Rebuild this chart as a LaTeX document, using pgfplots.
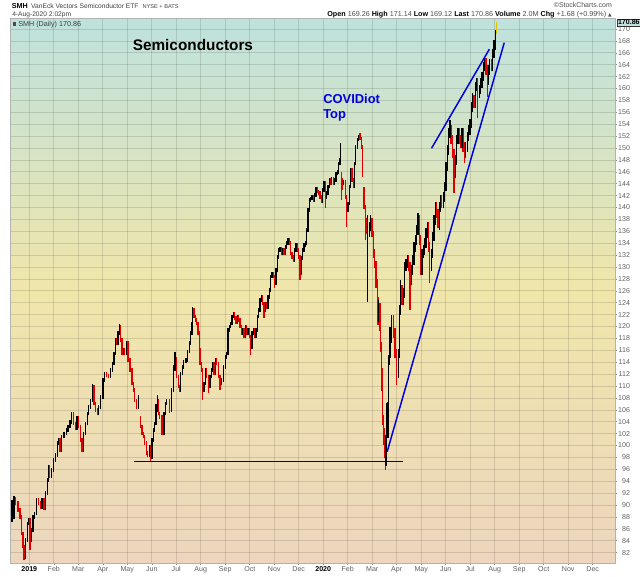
\documentclass[border=0pt]{standalone}
\usepackage{pgfplots}
\pgfplotsset{compat=1.18}
\usepackage{pgfplotstable}
\usepackage{fontspec}
\setmainfont{Liberation Sans}
\newfontfamily\dejavu{DejaVu Sans}
\definecolor{bgtop}{RGB}{190,226,221}
\definecolor{bgmid}{RGB}{240,230,170}
\definecolor{bgbot}{RGB}{236,214,190}
\definecolor{barred}{RGB}{225,0,0}
\definecolor{lblgray}{RGB}{95,95,95}
\definecolor{lastbar}{RGB}{225,195,0}
\definecolor{annblue}{RGB}{0,0,225}

\pgfplotstableread{
m lo hi d
-0.71 87.2 90.8 0
-0.62 87.7 91.6 0
-0.57 90.0 91.3 1
-0.46 88.9 90.6 1
-0.38 87.7 89.5 1
-0.33 84.9 88.3 1
-0.26 82.7 85.5 1
-0.22 80.7 83.3 1
-0.16 81.0 84.4 0
-0.08 83.8 87.2 0
-0.03 86.6 87.8 0
0.03 82.4 87.8 1
0.08 83.8 86.1 0
0.15 85.5 88.3 0
0.22 87.7 88.9 0
0.30 88.3 91.1 0
0.38 90.0 91.1 1
0.46 89.4 90.6 1
0.52 89.4 91.1 0
0.60 89.1 91.1 1
0.65 89.1 92.3 0
0.74 91.7 94.5 0
0.79 93.9 96.7 0
0.84 94.5 96.7 1
0.90 94.5 96.2 0
0.98 95.6 97.9 0
1.06 97.3 98.7 0
1.14 98.1 100.7 0
1.20 100.1 101.2 0
1.25 98.9 101.2 1
1.33 98.9 101.8 0
1.42 101.2 102.3 0
1.51 101.7 102.9 0
1.58 102.3 103.5 0
1.66 102.9 104.3 0
1.72 103.7 105.7 0
1.80 103.4 105.7 1
1.88 102.6 104.0 1
1.95 102.6 104.9 0
2.01 102.9 104.9 1
2.10 100.6 103.5 1
2.15 98.9 101.2 1
2.21 98.9 102.3 0
2.29 101.7 104.0 0
2.37 103.4 105.7 0
2.42 105.1 106.8 0
2.50 106.2 107.9 0
2.57 107.3 110.4 0
2.64 106.8 110.2 1
2.71 105.7 107.4 1
2.78 105.1 106.3 1
2.83 105.1 106.8 0
2.91 106.2 108.5 0
3.01 107.9 111.3 0
3.08 110.7 112.4 0
3.16 111.5 112.4 1
3.24 111.3 112.1 1
3.32 111.3 113.0 0
3.39 112.4 114.1 0
3.46 113.5 115.8 0
3.51 115.2 118.0 0
3.57 116.9 118.0 1
3.62 116.9 119.2 0
3.68 118.6 120.5 0
3.73 117.4 120.3 1
3.78 115.2 118.0 1
3.84 115.2 116.4 0
3.89 115.2 116.4 1
3.97 115.2 117.5 0
4.03 114.1 117.5 1
4.11 112.4 114.7 1
4.19 110.1 113.0 1
4.25 109.0 110.7 1
4.30 107.3 109.6 1
4.38 106.2 107.9 1
4.46 106.2 108.5 0
4.55 102.9 105.0 1
4.60 101.7 103.5 1
4.65 101.2 102.3 1
4.71 100.1 101.8 1
4.78 98.4 100.7 1
4.84 98.1 99.0 1
4.90 98.1 100.1 0
4.95 97.35 100.1 1
5.01 97.8 101.2 0
5.06 100.6 102.9 0
5.12 102.3 104.0 0
5.17 103.4 107.0 0
5.23 105.7 108.5 0
5.28 105.1 107.9 1
5.33 104.5 105.7 1
5.42 101.7 105.1 1
5.50 101.7 105.7 0
5.55 105.1 107.4 0
5.61 106.8 107.9 0
5.72 105.4 107.9 1
5.81 105.7 109.6 0
5.88 109.0 113.5 0
5.95 112.5 115.8 0
6.02 111.3 114.8 1
6.08 109.6 111.9 1
6.12 109.0 110.2 1
6.18 109.0 112.4 0
6.26 111.8 113.5 0
6.31 112.9 114.4 0
6.40 113.8 114.7 0
6.45 114.1 116.1 0
6.53 115.5 117.5 0
6.59 116.9 119.2 0
6.64 118.6 120.8 0
6.67 120.2 123.3 0
6.72 121.4 123.1 1
6.78 120.8 122.0 1
6.83 120.2 121.4 1
6.89 118.6 120.8 1
6.94 115.8 119.2 1
6.97 113.5 116.4 1
7.02 112.4 114.1 1
7.08 107.6 113.0 1
7.13 109.0 110.7 0
7.18 110.1 113.0 0
7.24 111.3 113.0 1
7.31 108.8 111.9 1
7.38 109.6 111.9 0
7.43 111.3 113.0 0
7.48 112.4 114.1 0
7.54 111.8 114.1 1
7.59 111.8 114.7 0
7.65 113.5 114.7 1
7.72 111.3 114.1 1
7.79 109.3 111.9 1
7.85 110.1 111.3 0
7.92 110.7 113.5 0
8.00 112.9 115.2 0
8.06 114.6 115.8 0
8.11 115.2 119.7 0
8.16 119.1 120.3 0
8.22 119.7 120.8 0
8.27 120.2 122.0 0
8.33 121.4 122.5 0
8.38 121.1 122.5 1
8.44 120.5 121.7 1
8.49 120.5 122.0 0
8.55 120.8 122.0 1
8.60 119.7 121.4 1
8.65 118.6 120.3 1
8.71 118.6 119.7 0
8.76 118.0 119.7 1
8.82 118.0 120.3 0
8.87 118.6 120.3 1
8.93 118.6 119.7 0
8.98 118.0 119.7 1
9.03 115.2 118.6 1
9.09 116.3 119.2 0
9.14 118.6 119.7 0
9.20 118.0 119.7 1
9.25 118.0 119.7 0
9.31 119.1 122.0 0
9.36 121.4 123.1 0
9.42 122.5 124.8 0
9.47 124.2 125.3 0
9.53 123.6 125.3 1
9.58 121.5 124.2 1
9.63 122.5 124.2 0
9.69 123.0 124.2 1
9.74 123.0 125.3 0
9.80 124.7 126.4 0
9.85 125.8 128.7 0
9.91 128.1 129.2 0
9.96 128.1 129.2 1
10.02 126.5 128.7 1
10.07 127.0 129.8 0
10.13 129.2 132.0 0
10.18 131.4 133.2 0
10.23 132.6 133.4 0
10.29 132.0 133.4 1
10.34 132.0 133.2 0
10.40 132.0 133.2 1
10.45 132.0 133.7 0
10.51 133.1 134.3 0
10.56 133.7 134.8 0
10.61 133.7 134.8 1
10.67 132.0 134.3 1
10.72 131.4 132.6 1
10.78 130.9 132.0 1
10.83 130.9 133.2 0
10.89 132.6 134.0 0
10.94 132.6 134.0 1
10.99 131.4 133.2 1
11.05 127.8 132.0 1
11.10 128.6 131.8 0
11.16 131.2 133.2 0
11.21 132.6 134.0 0
11.27 133.4 134.3 0
11.32 133.7 136.5 0
11.38 135.9 139.9 0
11.43 139.3 141.6 0
11.49 141.0 141.8 0
11.54 141.2 142.1 0
11.59 141.0 142.1 1
11.65 141.0 142.4 0
11.70 141.8 143.5 0
11.76 142.4 143.5 1
11.81 142.1 143.0 1
11.87 141.5 142.7 1
11.92 140.7 142.1 1
11.97 140.7 143.2 0
12.03 142.6 144.4 0
12.08 139.9 144.4 1
12.14 141.5 142.7 0
12.19 142.1 143.8 0
12.25 143.2 144.9 0
12.30 143.8 144.9 1
12.35 143.8 145.2 0
12.41 143.8 145.2 1
12.46 143.8 144.9 0
12.52 144.3 146.0 0
12.57 145.4 146.3 0
12.63 145.7 147.7 0
12.68 147.1 148.3 0
12.71 147.7 150.8 0
12.74 141.3 146.0 1
12.79 143.0 145.0 1
12.84 143.8 144.6 0
12.90 141.5 144.6 1
12.95 136.8 142.1 1
13.01 139.3 141.0 0
13.06 140.4 143.8 0
13.12 143.2 146.6 0
13.17 144.3 146.6 1
13.23 143.2 144.9 1
13.28 143.2 147.7 0
13.33 147.1 150.5 0
13.39 149.9 151.7 0
13.44 151.1 152.2 0
13.50 151.3 152.5 1
13.55 149.9 151.9 1
13.61 145.2 150.5 1
13.66 139.8 143.5 1
13.71 134.5 140.4 1
13.77 135.5 138.2 1
13.82 124.2 138.7 0
13.88 135.0 137.6 0
13.93 136.0 138.7 0
13.99 135.0 138.2 1
14.04 131.5 136.0 1
14.10 129.8 133.0 1
14.15 126.5 131.0 1
14.20 123.7 128.0 1
14.23 120.3 125.0 1
14.26 120.8 124.5 0
14.32 119.2 124.0 1
14.34 115.8 120.8 1
14.37 111.3 117.4 1
14.40 109.1 113.0 1
14.42 103.5 110.7 1
14.45 101.3 105.1 1
14.48 100.1 103.0 1
14.50 97.9 101.7 1
14.53 95.9 99.5 1
14.56 96.5 101.7 0
14.59 100.1 107.1 0
14.61 101.3 105.1 1
14.64 101.3 107.3 0
14.67 105.7 115.2 0
14.70 113.6 116.3 0
14.72 114.7 120.0 0
14.79 117.2 121.9 0
14.86 118.1 121.9 1
14.93 114.7 119.7 1
14.99 110.2 116.3 1
15.06 111.3 116.3 0
15.10 114.7 123.6 0
15.16 122.0 127.8 0
15.21 123.7 126.9 1
15.27 123.7 126.4 0
15.32 124.8 130.9 0
15.38 129.3 131.4 0
15.43 129.8 132.0 0
15.49 129.3 132.0 1
15.54 122.8 130.9 1
15.59 127.0 130.3 0
15.65 128.7 132.0 0
15.70 130.4 134.2 0
15.76 132.6 135.3 0
15.81 133.7 137.0 0
15.87 135.4 139.0 0
15.92 133.7 138.7 1
15.97 128.7 135.3 1
16.03 128.7 133.1 0
16.08 131.5 133.7 0
16.14 132.1 134.8 0
16.19 133.2 136.5 0
16.25 134.9 137.6 0
16.30 132.6 137.6 1
16.35 127.3 134.2 1
16.41 129.3 133.1 0
16.46 131.5 135.9 0
16.52 134.3 138.7 0
16.57 137.1 140.9 0
16.63 138.2 140.9 1
16.68 136.5 139.8 1
16.74 136.2 140.9 0
16.79 139.3 142.1 0
16.84 139.9 142.1 1
16.90 139.9 142.6 0
16.95 141.0 144.3 0
17.01 142.7 147.7 0
17.06 146.1 150.5 0
17.12 148.9 153.3 0
17.17 151.7 154.7 0
17.22 150.6 153.8 1
17.28 148.3 152.2 1
17.34 142.4 149.9 1
17.39 144.9 148.8 0
17.44 147.2 152.2 0
17.50 150.6 153.3 0
17.55 150.6 153.3 1
17.61 150.0 152.2 1
17.66 150.0 153.3 0
17.71 149.4 153.3 1
17.77 147.4 151.0 1
17.82 148.3 151.0 0
17.88 149.4 152.7 0
17.93 151.1 153.8 0
17.99 152.2 154.9 0
18.06 153.3 157.7 0
18.10 156.1 159.2 0
18.15 156.7 158.9 1
18.21 156.7 161.1 0
18.26 159.5 161.7 0
18.31 155.0 161.7 1
18.37 158.4 160.6 0
18.42 159.0 161.7 0
18.48 160.1 162.8 0
18.53 161.2 164.5 0
18.59 162.9 165.3 0
18.64 162.3 165.1 1
18.70 158.6 163.9 1
18.75 160.6 163.9 0
18.80 162.3 165.0 0
18.86 162.9 165.0 1
18.91 162.9 166.7 0
18.97 165.1 168.1 0
19.02 166.5 169.8 0
}\bars

\begin{document}
\begin{tikzpicture}
\useasboundingbox (-8pt,-9.75pt) rectangle (471.95pt,422.25pt);
\begin{axis}[
  at={(0,0)}, anchor=south west,
  scale only axis, width=453.2pt, height=408.75pt,
  xmin=-0.76, xmax=23.91, ymin=80.25, ymax=171.85,
  axis background/.style={top color=bgtop, bottom color=bgbot, middle color=bgmid},
  xtick={0,...,23},
  xticklabels={\textcolor{black}{\textbf{2019}},Feb,Mar,Apr,May,Jun,Jul,Aug,Sep,Oct,Nov,Dec,\textcolor{black}{\textbf{2020}},Feb,Mar,Apr,May,Jun,Jul,Aug,Sep,Oct,Nov,Dec},
  ytick={82,84,...,170},
  yticklabel pos=right, ytick pos=right, xtick pos=left,
  tick align=outside, major tick length=1.5pt,
  grid=major, major grid style={black, opacity=0.12, line width=0.5pt},
  axis line style={black!30},
  tick style={black!45, line width=0.4pt},
  /pgf/number format/assume math mode=true,
  yticklabel style={font=\fontsize{5.3}{6}\selectfont, text=lblgray, text width=9pt, align=right, inner sep=0.5pt},
  xticklabel style={font=\fontsize{5.3}{6}\selectfont, text=lblgray, inner sep=1pt},
]
% down bars (red)
\addplot[draw=none, mark=none,
  x filter/.expression={\thisrow{d}>0.5 ? x : nan},
  error bars/.cd, y dir=plus, y explicit, error mark=none,
  error bar style={draw=barred, line width=0.95pt}]
  table[x=m, y=lo, y error plus expr=\thisrow{hi}-\thisrow{lo}] {\bars};
% up bars (black)
\addplot[draw=none, mark=none,
  x filter/.expression={\thisrow{d}<0.5 ? x : nan},
  error bars/.cd, y dir=plus, y explicit, error mark=none,
  error bar style={draw=black, line width=0.95pt}]
  table[x=m, y=lo, y error plus expr=\thisrow{hi}-\thisrow{lo}] {\bars};
% last (current) bar
\addplot[draw=none, mark=none,
  error bars/.cd, y dir=plus, y explicit, error mark=none,
  error bar style={draw=lastbar, line width=1.1pt}]
  coordinates {(19.07,169.12) += (0,2.02)};
% trend lines
\addplot[annblue, line width=1.1pt] coordinates {(14.61,98.96) (19.39,167.7)};
\addplot[annblue, line width=1.1pt] coordinates {(16.42,149.95) (18.78,166.6)};
\addplot[annblue!60!black, line width=0.8pt] coordinates {(4.29,97.35) (15.27,97.35)};
% annotations
\node[anchor=base, font=\fontsize{11.5}{13}\selectfont\bfseries, inner sep=0] at (axis cs:6.68,166.47) {Semiconductors};
\node[anchor=base west, font=\fontsize{9.7}{11}\selectfont\bfseries, text=annblue, inner sep=0] at (axis cs:11.99,157.56) {COVIDiot};
\node[anchor=base west, font=\fontsize{9.7}{11}\selectfont\bfseries, text=annblue, inner sep=0] at (axis cs:11.99,155.04) {Top};
\end{axis}
% header
\node[anchor=base west, inner sep=0, font=\fontsize{5.4}{6}\selectfont\bfseries] at (0.75pt,415.9pt) {SMH};
\node[anchor=base west, inner sep=0, font=\fontsize{5}{6}\selectfont, text=black!75] at (15.2pt,415.9pt) {VanEck Vectors Semiconductor ETF};
\node[anchor=base west, inner sep=0, font=\fontsize{4.2}{5}\selectfont, text=black!75] at (98.8pt,415.9pt) {NYSE + BATS};
\node[anchor=base west, inner sep=0, font=\fontsize{5}{6}\selectfont, text=black!75] at (1pt,409.9pt) {4-Aug-2020 2:02pm};
\node[anchor=base east, inner sep=0, font=\fontsize{5.2}{6}\selectfont, text=black!70] at (451pt,416.25pt) {\copyright StockCharts.com};
\node[anchor=base east, inner sep=0, font=\fontsize{5.4}{6}\selectfont] at (451pt,409.9pt) {\textbf{Open} \textcolor{black!70}{169.26} \textbf{High} \textcolor{black!70}{171.14} \textbf{Low} \textcolor{black!70}{169.12} \textbf{Last} \textcolor{black!70}{170.86} \textbf{Volume} \textcolor{black!70}{2.0M} \textbf{Chg} \textcolor{black!70}{+1.68 (+0.99\%)} {\dejavu\fontsize{3.5}{4}\selectfont\textcolor{black!70}{▲}}};
\node[anchor=base west, inner sep=0, font=\fontsize{5.4}{6}\selectfont, text=black!75] at (5.5pt,402.75pt) {SMH (Daily) 170.86};
\fill[black!70] (1.5pt,402.9pt) rectangle (4pt,405.8pt);
\node[anchor=west, draw=black!80, fill=bgtop, line width=0.3pt, inner sep=0.6pt, font=\fontsize{5.3}{6}\selectfont\bfseries] at (454.7pt,405.4pt) {170.86};
\end{tikzpicture}
\end{document}
